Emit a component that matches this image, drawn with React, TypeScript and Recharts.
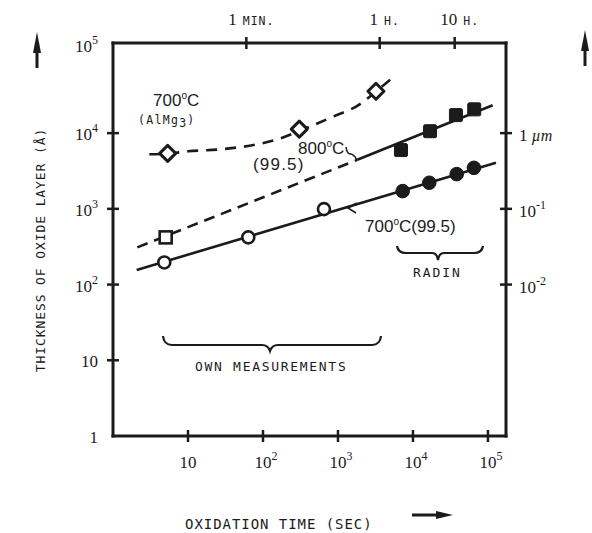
import React from 'react';
import { ComposedChart, XAxis, YAxis, Line, Scatter } from 'recharts';

// ---- axis ranges (log scales) ----
const TIME_MIN = 1;
const TIME_MAX = 174000;
const THK_MIN = 1;
const THK_MAX = 155000;

// ---- tick definitions ----
const bottomTickValues = [10, 100, 1000, 10000, 100000];
const bottomTickExp = ['', '2', '3', '4', '5'];
const topTickValues = [60, 3600, 36000];
const topTickNum = ['1', '1', '10'];
const topTickUnit = ['MIN.', 'H.', 'H.'];
const leftTickValues = [1, 10, 100, 1000, 10000, THK_MAX];
const leftTickBase = ['1', '10', '10', '10', '10', '10'];
const leftTickExp = ['', '', '2', '3', '4', '5'];
const rightTickValues = [100, 1000, 10000];
const rightTickBase = ['10', '10', '1'];
const rightTickExp = ['-2', '-1', ''];
const rightTickUnit = ['', '', ' \u00b5m'];

// ---- data (time in s, thickness in Å) ----
const ownCircleTime = [4.83, 63.7, 650];
const ownCircleThk = [196, 420, 993];
const radinCircleTime = [7290, 16500, 38300, 65000];
const radinCircleThk = [1715, 2210, 2875, 3480];
const ownSquareTime = [5.04];
const ownSquareThk = [420];
const radinSquareTime = [6920, 16900, 37400, 65600];
const radinSquareThk = [5970, 10600, 17300, 20600];
const alMgTime = [5.36, 305, 3210];
const alMgThk = [5400, 11300, 35700];

// fitted lines / curve
const line700Time = [2.07, 128000];
const line700Thk = [156, 4060];
const line800DashTime = [2.11, 1810];
const line800DashThk = [310, 4440];
const line800SolidTime = [1810, 115600];
const line800SolidThk = [4440, 23400];
const curveAlMgTime = [3.05, 5.36, 10, 30.2, 91.2, 158, 305, 871, 1950, 3210, 5460];
const curveAlMgThk = [5250, 5370, 5750, 6170, 7240, 8320, 10700, 16600, 24000, 35500, 55000];

const zip = (xs: number[], ys: number[]) => xs.map((x, i) => ({ x, y: ys[i] }));

const INK = '#1b1b1b';
const SERIF = '"Liberation Serif", "DejaVu Serif", serif';
const MONO = '"DejaVu Sans Mono", "Liberation Mono", monospace';
const SANS = '"Liberation Sans", "DejaVu Sans", sans-serif';

const TickMarkV = ({ x, y }: { x: number; y: number }) => (
  <line x1={x} y1={y - 6} x2={x} y2={y + 6} stroke={INK} strokeWidth={2.5} />
);
const TickMarkH = ({ x, y }: { x: number; y: number }) => (
  <line x1={x - 6} y1={y} x2={x + 6} y2={y} stroke={INK} strokeWidth={2.5} />
);

const BottomTick = (props: any) => {
  const { x, y, index } = props;
  const exp = bottomTickExp[index];
  return (
    <g>
      <TickMarkV x={x} y={y} />
      <text x={x + (exp ? 3 : 0)} y={y + 32} textAnchor="middle" fontFamily={SERIF} fontSize={17} fill={INK}>
        10
        {exp ? (
          <tspan dy={-8} fontSize={12}>
            {exp}
          </tspan>
        ) : null}
      </text>
    </g>
  );
};

const TopTick = (props: any) => {
  const { x, y, index } = props;
  return (
    <g>
      <TickMarkV x={x} y={y} />
      <text x={x + 5} y={y - 18} textAnchor="middle" fill={INK}>
        <tspan fontFamily={SERIF} fontSize={17}>
          {topTickNum[index]}
        </tspan>
        <tspan fontFamily={MONO} fontSize={11.5} dx={6} letterSpacing={1}>
          {topTickUnit[index]}
        </tspan>
      </text>
    </g>
  );
};

const LeftTick = (props: any) => {
  const { x, y, index } = props;
  const exp = leftTickExp[index];
  const isTop = index === leftTickValues.length - 1;
  return (
    <g>
      {!isTop && index !== 0 ? <TickMarkH x={x} y={y} /> : null}
      <text x={x - 15} y={y + (isTop ? 9 : 7)} textAnchor="end" fontFamily={SERIF} fontSize={17} fill={INK}>
        {leftTickBase[index]}
        {exp ? (
          <tspan dy={-8} fontSize={12}>
            {exp}
          </tspan>
        ) : null}
      </text>
    </g>
  );
};

const RightTick = (props: any) => {
  const { x, y, index } = props;
  const exp = rightTickExp[index];
  return (
    <g>
      <TickMarkH x={x} y={y} />
      <text x={x + 13} y={y + 8} textAnchor="start" fontFamily={SERIF} fontSize={17} fill={INK}>
        {rightTickBase[index]}
        {exp ? (
          <tspan dy={-8} fontSize={12}>
            {exp}
          </tspan>
        ) : null}
        {rightTickUnit[index] ? (
          <tspan fontStyle="italic" fontSize={16}>
            {rightTickUnit[index]}
          </tspan>
        ) : null}
      </text>
    </g>
  );
};

const OpenCircle = (p: any) => <circle cx={p.cx} cy={p.cy} r={6} fill="#fff" stroke={INK} strokeWidth={2.6} />;
const FilledCircle = (p: any) => <circle cx={p.cx} cy={p.cy} r={6.8} fill={INK} stroke={INK} strokeWidth={1} />;
const OpenSquare = (p: any) => (
  <rect x={p.cx - 6} y={p.cy - 6} width={12} height={12} fill="#fff" stroke={INK} strokeWidth={2.6} />
);
const FilledSquare = (p: any) => (
  <rect x={p.cx - 6.5} y={p.cy - 6.5} width={13} height={13} rx={1.5} fill={INK} stroke={INK} strokeWidth={1} />
);
const Diamond = (p: any) => (
  <path
    d={`M${p.cx},${p.cy - 8} L${p.cx + 8},${p.cy} L${p.cx},${p.cy + 8} L${p.cx - 8},${p.cy} Z`}
    fill="#fff"
    stroke={INK}
    strokeWidth={3}
    strokeLinejoin="round"
  />
);

const axisLine = { stroke: INK, strokeWidth: 3, strokeLinecap: 'square' as const };

const Sup = ({ children }: { children: React.ReactNode }) => (
  <tspan dy={-7} fontSize={10}>
    {children}
  </tspan>
);

export default function App() {
  return (
    <div style={{ position: 'absolute', left: 0, top: 0, width: 592, height: 533, background: '#fff' }}>
      <ComposedChart width={592} height={533} margin={{ top: 13, right: 26, bottom: 37, left: 53 }}>
        <XAxis
          xAxisId="b"
          dataKey="x"
          type="number"
          scale="log"
          domain={[TIME_MIN, TIME_MAX]}
          allowDataOverflow
          ticks={bottomTickValues}
          interval={0}
          orientation="bottom"
          height={60}
          tickSize={0}
          tickMargin={0}
          tickLine={false}
          axisLine={axisLine}
          tick={<BottomTick />}
        />
        <XAxis
          xAxisId="t"
          dataKey="x"
          type="number"
          scale="log"
          domain={[TIME_MIN, TIME_MAX]}
          allowDataOverflow
          ticks={topTickValues}
          interval={0}
          orientation="top"
          height={30}
          tickSize={0}
          tickMargin={0}
          tickLine={false}
          axisLine={axisLine}
          tick={<TopTick />}
        />
        <YAxis
          yAxisId="l"
          dataKey="y"
          type="number"
          scale="log"
          domain={[THK_MIN, THK_MAX]}
          allowDataOverflow
          ticks={leftTickValues}
          interval={0}
          orientation="left"
          width={60}
          tickSize={0}
          tickMargin={0}
          tickLine={false}
          axisLine={axisLine}
          tick={<LeftTick />}
        />
        <YAxis
          yAxisId="r"
          dataKey="y"
          type="number"
          scale="log"
          domain={[THK_MIN, THK_MAX]}
          allowDataOverflow
          ticks={rightTickValues}
          interval={0}
          orientation="right"
          width={60}
          tickSize={0}
          tickMargin={0}
          tickLine={false}
          axisLine={axisLine}
          tick={<RightTick />}
        />

        <Line xAxisId="b" yAxisId="l" data={zip(line700Time, line700Thk)} dataKey="y" type="linear" stroke={INK} strokeWidth={2.6} dot={false} activeDot={false} isAnimationActive={false} />
        <Line xAxisId="b" yAxisId="l" data={zip(line800DashTime, line800DashThk)} dataKey="y" type="linear" stroke={INK} strokeWidth={2.6} strokeDasharray="11 7" dot={false} activeDot={false} isAnimationActive={false} />
        <Line xAxisId="b" yAxisId="l" data={zip(line800SolidTime, line800SolidThk)} dataKey="y" type="linear" stroke={INK} strokeWidth={2.6} dot={false} activeDot={false} isAnimationActive={false} />
        <Line xAxisId="b" yAxisId="l" data={zip(curveAlMgTime, curveAlMgThk)} dataKey="y" type="monotone" stroke={INK} strokeWidth={2.6} strokeDasharray="11 8" dot={false} activeDot={false} isAnimationActive={false} />

        <Scatter xAxisId="b" yAxisId="l" data={zip(ownCircleTime, ownCircleThk)} shape={OpenCircle} isAnimationActive={false} />
        <Scatter xAxisId="b" yAxisId="l" data={zip(radinCircleTime, radinCircleThk)} shape={FilledCircle} isAnimationActive={false} />
        <Scatter xAxisId="b" yAxisId="l" data={zip(ownSquareTime, ownSquareThk)} shape={OpenSquare} isAnimationActive={false} />
        <Scatter xAxisId="b" yAxisId="l" data={zip(radinSquareTime, radinSquareThk)} shape={FilledSquare} isAnimationActive={false} />
        <Scatter xAxisId="b" yAxisId="l" data={zip(alMgTime, alMgThk)} shape={Diamond} isAnimationActive={false} />
      </ComposedChart>

      <svg width={592} height={533} style={{ position: 'absolute', left: 0, top: 0, pointerEvents: 'none' }}>
        {/* annotations */}
        <text x={153} y={106} fontFamily={SANS} fontSize={17} fill={INK}>
          700<Sup>o</Sup>
          <tspan dy={7}>C</tspan>
        </text>
        <text x={138} y={124} fontFamily={MONO} fontSize={11.5} letterSpacing={1.3} fill={INK}>
          (AlMg<tspan dy={3}>3</tspan>
          <tspan dy={-3}>)</tspan>
        </text>
        <text x={298} y={154} fontFamily={SANS} fontSize={17} fill={INK}>
          800<Sup>o</Sup>
          <tspan dy={7}>C</tspan>
        </text>
        <path d="M346,147 C347,156 351,153 353,155 C355,156 356,158 357,160" fill="none" stroke={INK} strokeWidth={1.5} />
        <text x={253} y={170} fontFamily={SANS} fontSize={17} letterSpacing={1.2} fill={INK}>
          (99.5)
        </text>
        <text x={365} y={232} fontFamily={SANS} fontSize={17} fill={INK}>
          700<Sup>o</Sup>
          <tspan dy={7}>C(99.5)</tspan>
        </text>
        <path d="M357,203 L348,208 L356,213" fill="none" stroke={INK} strokeWidth={1.5} />

        <path
          d="M397,246 Q398,253 406,253 L432,253 Q437,253 438,260 Q439,253 444,253 L474,253 Q482,253 483,246"
          fill="none"
          stroke={INK}
          strokeWidth={2.2}
        />
        <text x={413} y={277} fontFamily={MONO} fontSize={13} letterSpacing={1.9} fill={INK}>
          RADIN
        </text>

        <path
          d="M163,336 Q164,345 172,345 L262,345 Q268,345 270,351 Q272,345 278,345 L372,345 Q380,345 381,336"
          fill="none"
          stroke={INK}
          strokeWidth={2.2}
        />
        <text x={195} y={371} fontFamily={MONO} fontSize={13} letterSpacing={1.7} fill={INK}>
          OWN MEASUREMENTS
        </text>

        {/* axis titles */}
        <text
          x={0}
          y={0}
          transform="translate(45,250) rotate(-90)"
          textAnchor="middle"
          fontFamily={MONO}
          fontSize={13}
          letterSpacing={0.9}
          fill={INK}
        >
          THICKNESS OF OXIDE LAYER (Å)
        </text>
        <text x={185} y={529} fontFamily={MONO} fontSize={14} letterSpacing={0.95} fill={INK}>
          OXIDATION TIME (SEC)
        </text>

        {/* arrows */}
        <line x1={37} y1={50} x2={37} y2={68} stroke={INK} strokeWidth={3} />
        <path d="M37,32 L41,53 L33,53 Z" fill={INK} />
        <line x1={585} y1={48} x2={585} y2={66} stroke={INK} strokeWidth={3} />
        <path d="M585,30 L589,51 L581,51 Z" fill={INK} />
        <line x1={412} y1={515} x2={440} y2={515} stroke={INK} strokeWidth={3} />
        <path d="M453,515 L436,511 L436,519 Z" fill={INK} />
      </svg>
    </div>
  );
}
